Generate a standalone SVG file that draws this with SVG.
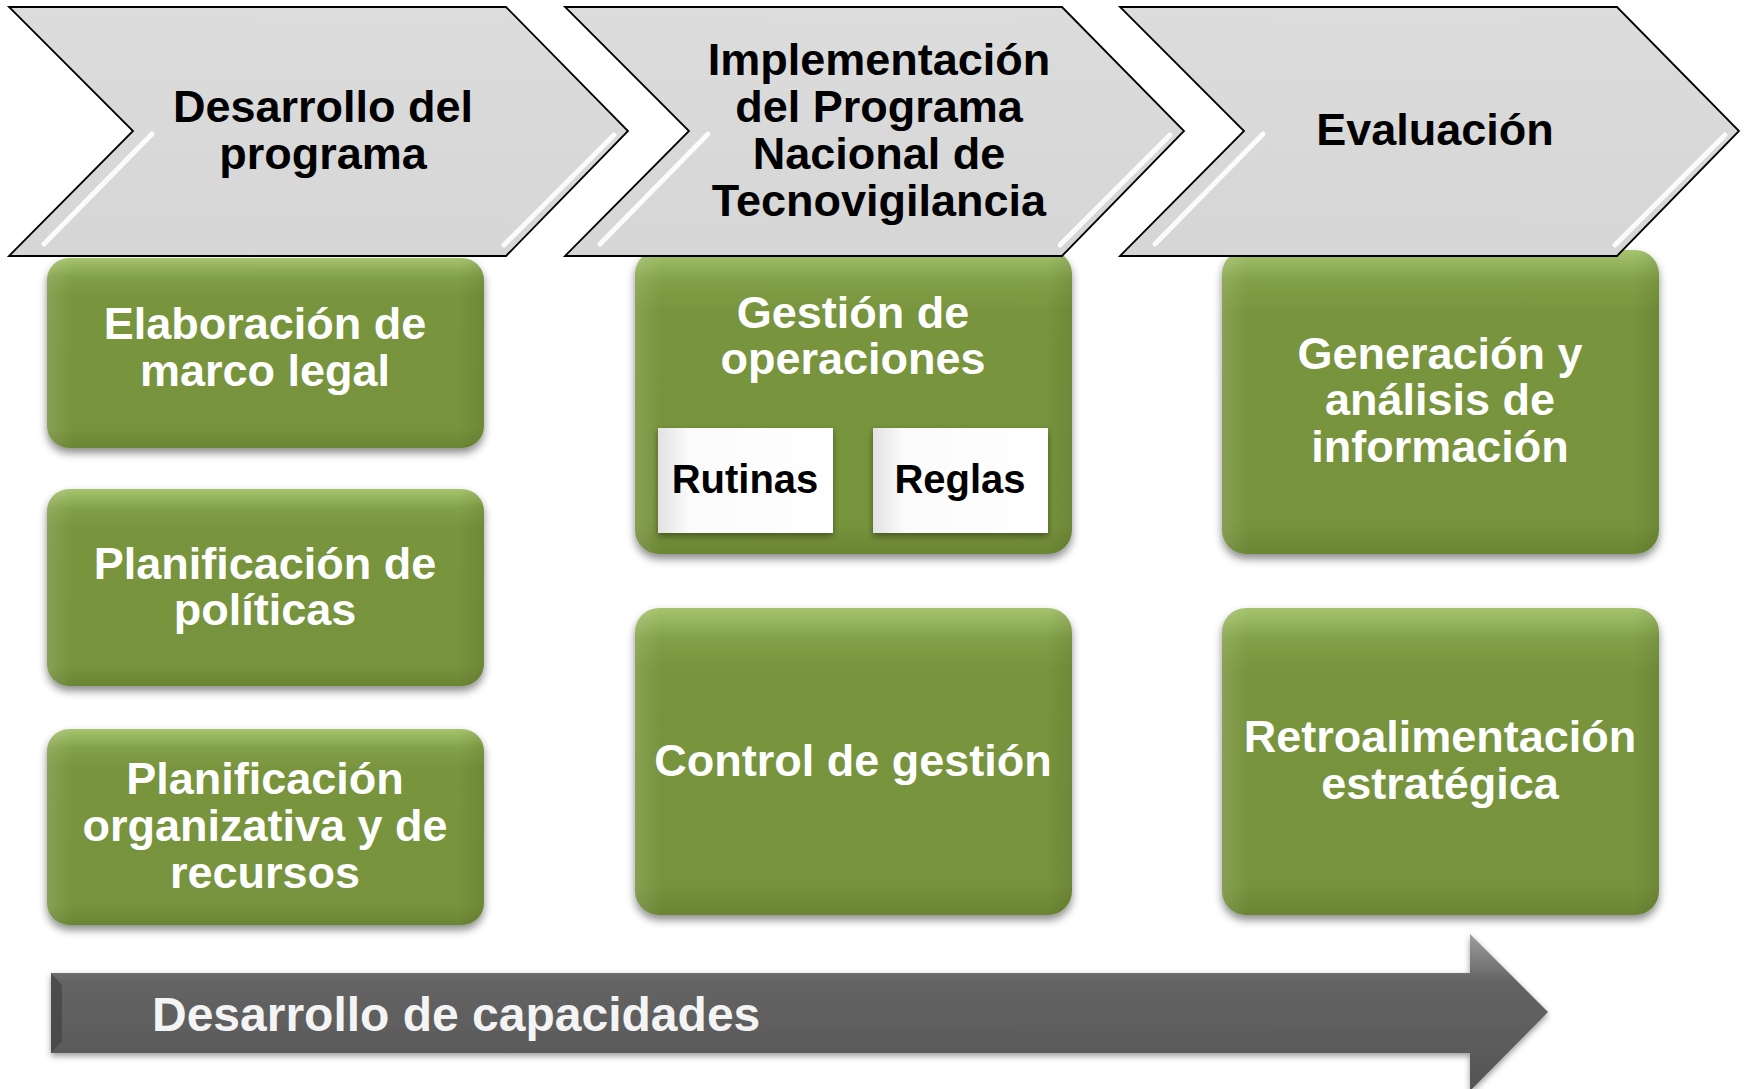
<svg xmlns="http://www.w3.org/2000/svg" width="1744" height="1089" viewBox="0 0 1744 1089">
<defs>
<linearGradient id="gGreen" x1="0" y1="0" x2="0" y2="1">
<stop offset="0" stop-color="#a6c46e"/>
<stop offset="0.1" stop-color="#82a047"/>
<stop offset="0.2" stop-color="#78943d"/>
<stop offset="0.9" stop-color="#77933c"/>
<stop offset="1" stop-color="#6a8534"/>
</linearGradient>
<linearGradient id="gGreenSide" x1="0" y1="0" x2="1" y2="0">
<stop offset="0" stop-color="#ffffff" stop-opacity="0.12"/>
<stop offset="0.06" stop-color="#ffffff" stop-opacity="0"/>
<stop offset="0.94" stop-color="#000000" stop-opacity="0"/>
<stop offset="1" stop-color="#000000" stop-opacity="0.08"/>
</linearGradient>
<linearGradient id="gWhite" x1="0" y1="0" x2="1" y2="0">
<stop offset="0" stop-color="#e2e2e2"/>
<stop offset="0.18" stop-color="#fbfbfb"/>
<stop offset="1" stop-color="#ffffff"/>
</linearGradient>
<linearGradient id="gGray" x1="0" y1="0" x2="0" y2="1">
<stop offset="0" stop-color="#9e9e9e"/>
<stop offset="0.3" stop-color="#646464"/>
<stop offset="1" stop-color="#555555"/>
</linearGradient>
<linearGradient id="gChev" x1="0" y1="0" x2="0" y2="1">
<stop offset="0" stop-color="#dcdcdc"/>
<stop offset="1" stop-color="#d6d6d6"/>
</linearGradient>
<filter id="shadow" x="-10%" y="-10%" width="120%" height="130%">
<feDropShadow dx="0" dy="5" stdDeviation="4" flood-color="#000" flood-opacity="0.45"/>
</filter>
<filter id="shadowS" x="-10%" y="-10%" width="120%" height="130%">
<feDropShadow dx="0" dy="3" stdDeviation="3" flood-color="#000" flood-opacity="0.4"/>
</filter>
</defs>
<style>
text{font-family:"Liberation Sans",Arial,sans-serif;font-weight:bold;text-anchor:middle}
.w{fill:#ffffff;font-size:45px}
.b{fill:#000000;font-size:45px}
.s{fill:#000000;font-size:40px}
.chev{fill:url(#gChev);stroke:#000;stroke-width:1.8;stroke-linejoin:miter}
.hl{fill:none;stroke:#ffffff;stroke-width:5;stroke-linecap:round;opacity:0.9}
.gbox{fill:url(#gGreen);filter:url(#shadow)}
.gside{fill:url(#gGreenSide)}
.wbox{fill:url(#gWhite);filter:url(#shadowS)}
</style>
<rect width="1744" height="1089" fill="#ffffff"/>

<g id="boxes-col1">
<g id="elaboracion">
<rect class="gbox" x="47" y="258" width="437" height="190" rx="22"/>
<rect class="gside" x="47" y="258" width="437" height="190" rx="22"/>
<text class="w" x="265" y="339">Elaboración de</text>
<text class="w" x="265" y="386">marco legal</text>
</g>
<g id="planificacion-politicas">
<rect class="gbox" x="47" y="489" width="437" height="197" rx="22"/>
<rect class="gside" x="47" y="489" width="437" height="197" rx="22"/>
<text class="w" x="265" y="579">Planificación de</text>
<text class="w" x="265" y="625">políticas</text>
</g>
<g id="planificacion-organizativa">
<rect class="gbox" x="47" y="729" width="437" height="196" rx="22"/>
<rect class="gside" x="47" y="729" width="437" height="196" rx="22"/>
<text class="w" x="265" y="794">Planificación</text>
<text class="w" x="265" y="841">organizativa y de</text>
<text class="w" x="265" y="888">recursos</text>
</g>
</g>

<g id="boxes-col2">
<g id="gestion-operaciones">
<rect class="gbox" x="635" y="250" width="437" height="304" rx="24"/>
<rect class="gside" x="635" y="250" width="437" height="304" rx="24"/>
<text class="w" x="853" y="328">Gestión de</text>
<text class="w" x="853" y="374">operaciones</text>
</g>
<g id="rutinas">
<rect class="wbox" x="658" y="428" width="175" height="105"/>
<text class="s" x="745" y="493">Rutinas</text>
</g>
<g id="reglas">
<rect class="wbox" x="873" y="428" width="175" height="105"/>
<text class="s" x="960" y="493">Reglas</text>
</g>
<g id="control-gestion">
<rect class="gbox" x="635" y="608" width="437" height="307" rx="24"/>
<rect class="gside" x="635" y="608" width="437" height="307" rx="24"/>
<text class="w" x="853" y="776">Control de gestión</text>
</g>
</g>

<g id="boxes-col3">
<g id="generacion">
<rect class="gbox" x="1222" y="250" width="437" height="304" rx="24"/>
<rect class="gside" x="1222" y="250" width="437" height="304" rx="24"/>
<text class="w" x="1440" y="369">Generación y</text>
<text class="w" x="1440" y="415">análisis de</text>
<text class="w" x="1440" y="462">información</text>
</g>
<g id="retroalimentacion">
<rect class="gbox" x="1222" y="608" width="437" height="307" rx="24"/>
<rect class="gside" x="1222" y="608" width="437" height="307" rx="24"/>
<text class="w" x="1440" y="752">Retroalimentación</text>
<text class="w" x="1440" y="799">estratégica</text>
</g>
</g>

<g id="chevron-desarrollo">
<path class="chev" d="M9,7 L506,7 L628,131 L506,256 L9,256 L133,131 Z"/>
<path class="hl" d="M152,134 L44,244"/>
<path class="hl" d="M614,135 L504,245"/>
<text class="b" x="323" y="122">Desarrollo del</text>
<text class="b" x="323" y="169">programa</text>
</g>
<g id="chevron-implementacion">
<path class="chev" d="M565,7 L1062,7 L1184,131 L1062,256 L565,256 L689,131 Z"/>
<path class="hl" d="M708,134 L600,244"/>
<path class="hl" d="M1170,135 L1060,245"/>
<text class="b" x="879" y="75">Implementación</text>
<text class="b" x="879" y="122">del Programa</text>
<text class="b" x="879" y="169">Nacional de</text>
<text class="b" x="879" y="216">Tecnovigilancia</text>
</g>
<g id="chevron-evaluacion">
<path class="chev" d="M1120,7 L1617,7 L1739,131 L1617,256 L1120,256 L1244,131 Z"/>
<path class="hl" d="M1263,134 L1155,244"/>
<path class="hl" d="M1725,135 L1615,245"/>
<text class="b" x="1435" y="145">Evaluación</text>
</g>

<g id="arrow-capacidades">
<path d="M51,973 L1470,973 L1470,934 L1548,1012 L1470,1091 L1470,1053 L51,1053 Z" fill="url(#gGray)" filter="url(#shadowS)"/>
<path d="M51,973 L62,985 L62,1041 L51,1053 Z" fill="#3e3e3e" opacity="0.6"/>
<text x="152" y="1031" style="text-anchor:start;font-size:48px;fill:#f4f4f4">Desarrollo de capacidades</text>
</g>
</svg>
